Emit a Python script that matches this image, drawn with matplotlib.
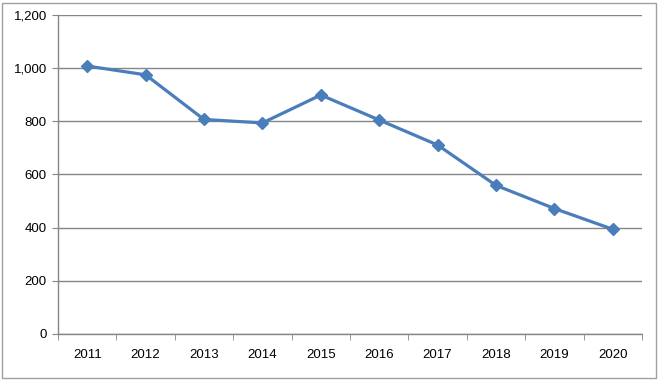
import matplotlib
matplotlib.use("Agg")
import matplotlib.pyplot as plt
from matplotlib.patches import Rectangle
from matplotlib.ticker import FuncFormatter, MultipleLocator, FixedLocator

# Data
years = ["2011", "2012", "2013", "2014", "2015", "2016", "2017", "2018", "2019", "2020"]
values = [1008, 975, 807, 794, 899, 805, 711, 559, 472, 394]

plt.rcParams["font.family"] = ["Liberation Sans", "DejaVu Sans"]

fig = plt.figure(figsize=(6.59, 3.80), dpi=100)
ax = fig.add_axes([58 / 659, 46 / 380, 584 / 659, 319 / 380])

x = list(range(len(years)))
ax.plot(x, values, color="#4a7ebb", linewidth=2.3, marker="D", markersize=6.5,
        markerfacecolor="#4a7ebb", markeredgecolor="#4a7ebb", zorder=3)

ax.set_xlim(-0.5, len(years) - 0.5)
ax.set_ylim(0, 1200)
ax.yaxis.set_major_locator(MultipleLocator(200))
ax.yaxis.set_major_formatter(FuncFormatter(lambda v, p: f"{int(v):,}"))
ax.grid(axis="y", color="#868686", linewidth=1.0)
ax.set_axisbelow(True)

ax.set_xticks(x)
ax.set_xticklabels(years)
ax.xaxis.set_minor_locator(FixedLocator([i - 0.5 for i in range(len(years) + 1)]))
ax.tick_params(axis="x", which="major", length=0, pad=11, labelsize=9.5)
ax.tick_params(axis="x", which="minor", length=4, color="#868686", direction="out")
ax.tick_params(axis="y", length=4, color="#868686", labelsize=9.5, pad=4)

for side in ["top", "right"]:
    ax.spines[side].set_visible(False)
for side in ["left", "bottom"]:
    ax.spines[side].set_color("#868686")
    ax.spines[side].set_linewidth(1.0)

# chart area border
fig.patches.append(Rectangle((2 / 659, 2 / 380), 654 / 659, 375 / 380, transform=fig.transFigure,
                             fill=False, edgecolor="#a0a0a0", linewidth=1.0))

fig.savefig("out.png", dpi=100)
